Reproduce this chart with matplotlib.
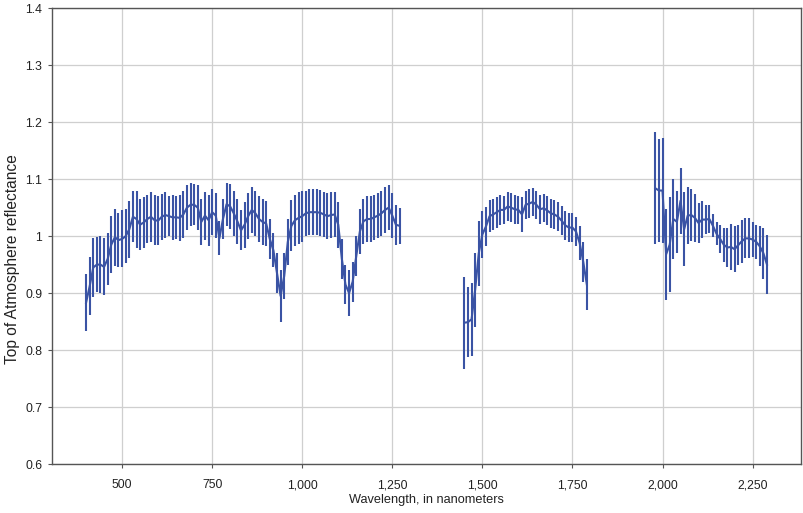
import matplotlib
matplotlib.use('Agg')
import matplotlib.pyplot as plt
from matplotlib.ticker import FuncFormatter

plt.rcParams['font.family'] = ['Liberation Sans Narrow', 'Liberation Sans', 'DejaVu Sans']

# band 1: visible / near infrared
wl_1 = [400, 410, 420, 430, 440, 450, 460, 470, 480, 490,
        500, 510, 520, 530, 540, 550, 560, 570, 580, 590,
        600, 610, 620, 630, 640, 650, 660, 670, 680, 690,
        700, 710, 720, 730, 740, 750, 760, 770, 780, 790,
        800, 810, 820, 830, 840, 850, 860, 870, 880, 890,
        900, 910, 920, 930, 940, 950, 960, 970, 980, 990,
        1000, 1010, 1020, 1030, 1040, 1050, 1060, 1070, 1080, 1090,
        1100, 1110, 1120, 1130, 1140, 1150, 1160, 1170, 1180, 1190,
        1200, 1210, 1220, 1230, 1240, 1250, 1260, 1270]
toa_1 = [0.883, 0.912, 0.945, 0.950, 0.950, 0.946, 0.960, 0.985, 0.998, 0.993,
         0.995, 1.000, 1.012, 1.034, 1.030, 1.020, 1.024, 1.030, 1.034, 1.028,
         1.027, 1.034, 1.037, 1.035, 1.033, 1.033, 1.032, 1.038, 1.050, 1.055,
         1.055, 1.050, 1.025, 1.036, 1.028, 1.042, 1.036, 0.996, 1.030, 1.056,
         1.052, 1.040, 1.026, 1.010, 1.020, 1.035, 1.046, 1.040, 1.030, 1.025,
         1.022, 0.995, 0.975, 0.935, 0.895, 0.930, 0.990, 1.018, 1.028, 1.032,
         1.035, 1.040, 1.042, 1.042, 1.042, 1.041, 1.038, 1.035, 1.037, 1.038,
         1.020, 0.960, 0.915, 0.900, 0.920, 0.965, 1.008, 1.026, 1.030, 1.030,
         1.033, 1.036, 1.040, 1.046, 1.050, 1.036, 1.020, 1.018]
err_1 = [0.050, 0.051, 0.052, 0.048, 0.050, 0.050, 0.045, 0.050, 0.050, 0.048,
         0.050, 0.048, 0.050, 0.045, 0.050, 0.045, 0.045, 0.042, 0.044, 0.044,
         0.043, 0.040, 0.040, 0.035, 0.040, 0.038, 0.040, 0.042, 0.040, 0.038,
         0.036, 0.040, 0.040, 0.042, 0.045, 0.040, 0.040, 0.030, 0.035, 0.038,
         0.040, 0.040, 0.040, 0.035, 0.040, 0.040, 0.040, 0.040, 0.040, 0.040,
         0.040, 0.035, 0.030, 0.035, 0.045, 0.040, 0.040, 0.045, 0.045, 0.045,
         0.045, 0.040, 0.040, 0.040, 0.040, 0.040, 0.040, 0.040, 0.040, 0.040,
         0.040, 0.035, 0.035, 0.040, 0.035, 0.035, 0.040, 0.040, 0.040, 0.040,
         0.040, 0.040, 0.040, 0.040, 0.040, 0.040, 0.035, 0.032]

# band 2: shortwave infrared 1
wl_2 = [1450, 1460, 1470, 1480, 1490, 1500, 1510, 1520, 1530, 1540,
        1550, 1560, 1570, 1580, 1590, 1600, 1610, 1620, 1630, 1640,
        1650, 1660, 1670, 1680, 1690, 1700, 1710, 1720, 1730, 1740,
        1750, 1760, 1770, 1780, 1790]
toa_2 = [0.848, 0.849, 0.854, 0.906, 0.970, 1.003, 1.017, 1.035, 1.038, 1.042,
         1.046, 1.046, 1.052, 1.050, 1.047, 1.046, 1.038, 1.055, 1.057, 1.060,
         1.055, 1.047, 1.049, 1.045, 1.040, 1.038, 1.034, 1.027, 1.019, 1.015,
         1.015, 1.008, 0.988, 0.955, 0.915]
err_2 = [0.081, 0.062, 0.064, 0.065, 0.057, 0.041, 0.034, 0.028, 0.028, 0.027,
         0.026, 0.025, 0.025, 0.025, 0.025, 0.025, 0.030, 0.025, 0.025, 0.025,
         0.025, 0.025, 0.025, 0.025, 0.025, 0.025, 0.025, 0.025, 0.025, 0.025,
         0.025, 0.025, 0.030, 0.035, 0.045]

# band 3: shortwave infrared 2
wl_3 = [1980, 1990, 2000, 2010, 2020, 2030, 2040, 2050, 2060, 2070,
        2080, 2090, 2100, 2110, 2120, 2130, 2140, 2150, 2160, 2170,
        2180, 2190, 2200, 2210, 2220, 2230, 2240, 2250, 2260, 2270,
        2280, 2290]
toa_3 = [1.084, 1.080, 1.080, 0.968, 0.985, 1.030, 1.025, 1.062, 1.012, 1.036,
         1.037, 1.032, 1.023, 1.029, 1.029, 1.030, 1.018, 1.004, 0.995, 0.985,
         0.980, 0.981, 0.977, 0.984, 0.991, 0.996, 0.996, 0.994, 0.990, 0.982,
         0.970, 0.950]
err_3 = [0.098, 0.090, 0.092, 0.080, 0.083, 0.070, 0.055, 0.058, 0.065, 0.050,
         0.045, 0.042, 0.035, 0.033, 0.025, 0.025, 0.020, 0.020, 0.025, 0.030,
         0.035, 0.040, 0.040, 0.035, 0.038, 0.035, 0.035, 0.030, 0.030, 0.035,
         0.045, 0.052]

blue = '#3A53A4'

fig = plt.figure(figsize=(8.04, 5.13), dpi=100)
ax = fig.add_axes([0.0647, 0.0955, 0.9316, 0.8885])

for wl, toa, err in [(wl_1, toa_1, err_1), (wl_2, toa_2, err_2), (wl_3, toa_3, err_3)]:
    ax.errorbar(wl, toa, yerr=err, color=blue, ecolor=blue, lw=1.5,
                elinewidth=1.5, capsize=0, zorder=3)

ax.set_ylim(0.6, 1.4)
ax.set_yticks([0.6, 0.7, 0.8, 0.9, 1.0, 1.1, 1.2, 1.3, 1.4])
ax.set_xticks([500, 750, 1000, 1250, 1500, 1750, 2000, 2250])
ax.xaxis.set_major_formatter(FuncFormatter(lambda v, p: '{:,.0f}'.format(v)))
ax.yaxis.set_major_formatter(FuncFormatter(lambda v, p: '{:g}'.format(round(v, 1))))

ax.grid(True, color='#cfcfcf', lw=0.9)
ax.set_axisbelow(True)
for s in ax.spines.values():
    s.set_color('#555555')
    s.set_linewidth(1.0)
ax.tick_params(axis='both', length=3, color='#555555', labelsize=8.8, labelcolor='#222222')
ax.tick_params(axis='x', pad=8)
ax.tick_params(axis='y', pad=4)

ax.set_xlabel('Wavelength, in nanometers', fontsize=9.2, color='#222222')
ax.xaxis.set_label_coords(0.5, -0.066)
ax.set_ylabel('Top of Atmosphere reflectance', fontsize=11.2, color='#222222')
ax.yaxis.set_label_coords(-0.043, 0.45)

plt.savefig('out.png', dpi=100)
